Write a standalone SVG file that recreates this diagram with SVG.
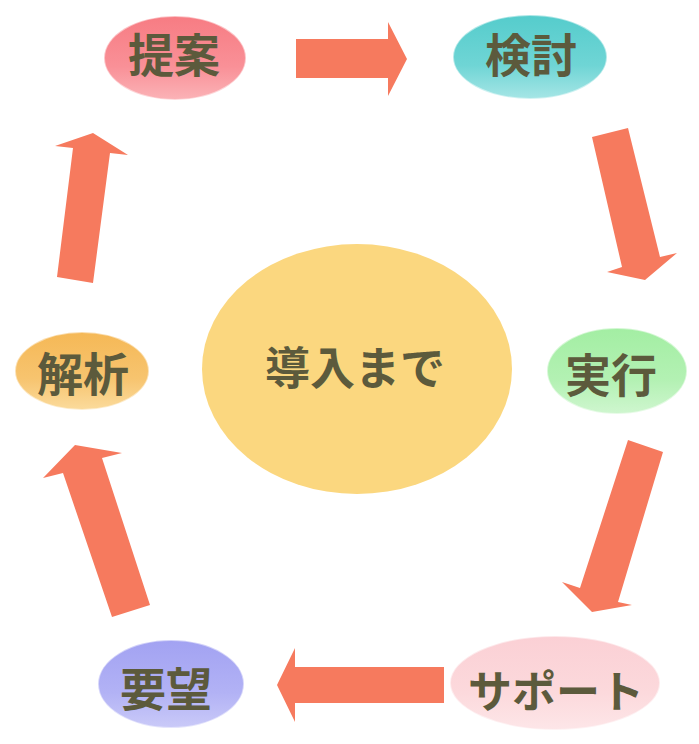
<svg xmlns="http://www.w3.org/2000/svg" width="699" height="744" viewBox="0 0 699 744">
<defs>
<linearGradient id="gRed" x1="0" y1="0" x2="0" y2="1"><stop offset="0" stop-color="#f77c83"/><stop offset="0.6" stop-color="#f99097"/><stop offset="1" stop-color="#fbb3b7"/></linearGradient>
<linearGradient id="gTeal" x1="0" y1="0" x2="0" y2="1"><stop offset="0" stop-color="#55cccc"/><stop offset="0.6" stop-color="#6fd5d5"/><stop offset="1" stop-color="#a6e6e6"/></linearGradient>
<linearGradient id="gOrange" x1="0" y1="0" x2="0" y2="1"><stop offset="0" stop-color="#f5b856"/><stop offset="0.6" stop-color="#f7c46f"/><stop offset="1" stop-color="#fbdb9c"/></linearGradient>
<linearGradient id="gGreen" x1="0" y1="0" x2="0" y2="1"><stop offset="0" stop-color="#a3eea3"/><stop offset="0.6" stop-color="#b3f1b3"/><stop offset="1" stop-color="#cff6cf"/></linearGradient>
<linearGradient id="gPink" x1="0" y1="0" x2="0" y2="1"><stop offset="0" stop-color="#fbd0d5"/><stop offset="0.6" stop-color="#fcd9dc"/><stop offset="1" stop-color="#fde6e8"/></linearGradient>
<linearGradient id="gBlue" x1="0" y1="0" x2="0" y2="1"><stop offset="0" stop-color="#a2a2f2"/><stop offset="0.6" stop-color="#b2b2f5"/><stop offset="1" stop-color="#cacaf8"/></linearGradient>
</defs>
<style>
.lbl{font-family:"Noto Sans CJK JP","Noto Sans CJK SC",sans-serif;font-weight:bold;font-size:46px;fill:#5c5a3c;text-anchor:middle;dominant-baseline:central}
.arr{fill:#f67a5e}
.rim{stroke:#ffffff;stroke-opacity:0.5;stroke-width:2}
</style>
<g id="connectors">
<polygon class="arr" points="296,39 388,39 388,22 407,59 388,96 388,78 296,78"/>
<polygon class="arr" points="592,137 628,128 660,257 677,253 645,280 607,272 622,267"/>
<polygon class="arr" points="628,440 663,452 618,602 632,605 592,612 562,582 580,588"/>
<polygon class="arr" points="444,667 444,703 295,703 295,722 277,685 295,648 295,667"/>
<polygon class="arr" points="150,605 112,617 63,473 43,478 75,445 122,453 102,458"/>
<polygon class="arr" points="93,283 57,277 73,148 55,146 93,133 128,155 110,153"/>
</g>
<g id="center">
<ellipse cx="357" cy="369" rx="155" ry="125" fill="#fbd77f"/>
<text class="lbl" x="355" y="365" style="font-size:45px">導入まで</text>
</g>
<g id="teian">
<ellipse class="rim" cx="175" cy="58" rx="71" ry="42" fill="url(#gRed)"/>
<text class="lbl" x="174" y="52">提案</text>
</g>
<g id="kento">
<ellipse class="rim" cx="530" cy="57" rx="77" ry="42" fill="url(#gTeal)"/>
<text class="lbl" x="531" y="52">検討</text>
</g>
<g id="jikko">
<ellipse class="rim" cx="617" cy="371" rx="70" ry="43" fill="url(#gGreen)"/>
<text class="lbl" x="611" y="372">実行</text>
</g>
<g id="support">
<ellipse class="rim" cx="555" cy="683" rx="105" ry="47" fill="url(#gPink)"/>
<text class="lbl" x="556" y="689" style="font-size:44px">サポート</text>
</g>
<g id="yobo">
<ellipse class="rim" cx="171" cy="684" rx="73" ry="44" fill="url(#gBlue)"/>
<text class="lbl" x="166" y="686">要望</text>
</g>
<g id="kaiseki">
<ellipse class="rim" cx="82" cy="371" rx="67" ry="39" fill="url(#gOrange)"/>
<text class="lbl" x="83" y="371">解析</text>
</g>
</svg>
